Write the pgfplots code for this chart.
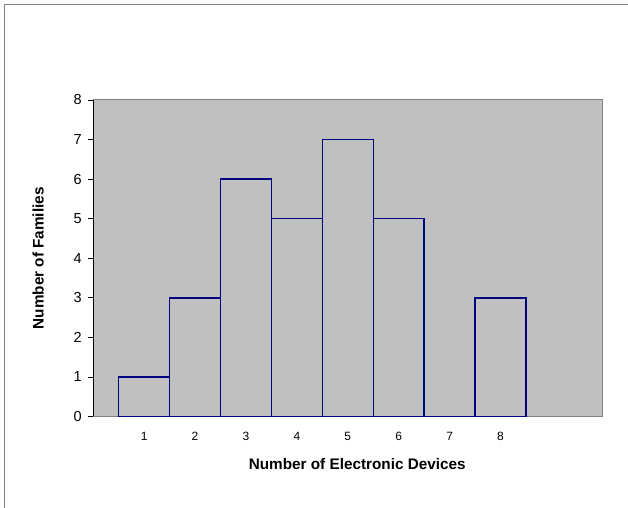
\documentclass[border=0pt]{standalone}
\usepackage{fontspec}
\setmainfont{Liberation Sans}
\usepackage{pgfplots}
\pgfplotsset{compat=1.18}
\definecolor{plotgray}{HTML}{C0C0C0}
\definecolor{navybar}{HTML}{000080}
\definecolor{framegray}{HTML}{808080}
\begin{document}
\begin{tikzpicture}[x=1bp,y=1bp]
\useasboundingbox (0,0) rectangle (628,508);
\draw[framegray, line width=1bp] (4.5,0) -- (4.5,503.5) -- (628,503.5);
\begin{axis}[
  at={(93.2bp,91.5bp)}, anchor=south west,
  scale only axis, width=509.2bp, height=316.5bp,
  xmin=0, xmax=10, ymin=0, ymax=8,
  axis background/.style={fill=plotgray},
  axis line style={framegray, line width=1bp},
  /pgf/number format/assume math mode=true,
  tick pos=left, tick align=outside, major tick length=5bp,
  xtick={1,...,8}, ytick={0,...,8},
  x tick style={draw=none},
  y tick style={black, line width=0.8bp},
  xticklabel style={font=\fontsize{12bp}{13bp}\selectfont, text height=8.8bp, text depth=0bp, yshift=-7bp},
  yticklabel style={font=\fontsize{14.5bp}{16bp}\selectfont, xshift=-3bp},
  xlabel={\bfseries Number of Electronic Devices},
  ylabel={\bfseries Number of Families},
  xlabel style={font=\fontsize{15.3bp}{17bp}\selectfont, at={(axis description cs:0.5185,0)}, anchor=center, yshift=-47.5bp},
  ylabel style={font=\fontsize{15.3bp}{17bp}\selectfont, at={(axis description cs:-0.108,0.5)}, anchor=center},
  ybar, bar width=1,
]
\addplot[draw=navybar, fill=plotgray, line width=1.4bp] coordinates {
  (1,1) (2,3) (3,6) (4,5) (5,7) (6,5) (7,0) (8,3)
};
\draw[black, line width=1bp] (axis cs:0,0) -- (axis cs:0,8);
\end{axis}
\end{tikzpicture}
\end{document}
